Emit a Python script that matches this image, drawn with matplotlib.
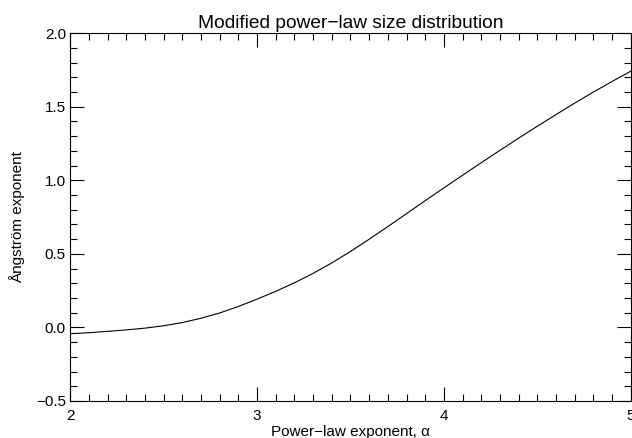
import numpy as np
import matplotlib
matplotlib.use('Agg')
import matplotlib.pyplot as plt
from matplotlib.ticker import MultipleLocator

# values
alpha = [2.0, 2.1, 2.2, 2.3, 2.4, 2.5, 2.6, 2.7, 2.8, 2.9, 3.0,
         3.1, 3.2, 3.3, 3.4, 3.5, 3.6, 3.7, 3.8, 3.9, 4.0,
         4.1, 4.2, 4.3, 4.4, 4.5, 4.6, 4.7, 4.8, 4.9, 5.0]
angstrom = [-0.043, -0.036, -0.027, -0.017, -0.005, 0.011, 0.033, 0.062, 0.098, 0.142, 0.192,
            0.245, 0.303, 0.367, 0.438, 0.516, 0.599, 0.685, 0.773, 0.861, 0.948,
            1.034, 1.119, 1.203, 1.286, 1.367, 1.446, 1.524, 1.599, 1.671, 1.741]

plt.rcParams['font.family'] = ['Liberation Sans', 'DejaVu Sans']

fig = plt.figure(figsize=(6.32, 4.38), dpi=100)
ax = fig.add_axes([0.111, 0.0845, 0.887, 0.840])
ax.plot(alpha, angstrom, color='k', lw=0.8)

ax.set_xlim(2, 5)
ax.set_ylim(-0.5, 2.0)
ax.xaxis.set_major_locator(MultipleLocator(1))
ax.xaxis.set_minor_locator(MultipleLocator(0.1))
ax.yaxis.set_major_locator(MultipleLocator(0.5))
ax.yaxis.set_minor_locator(MultipleLocator(0.1))
ax.xaxis.set_major_formatter(plt.FuncFormatter(lambda v, p: '%d' % v))
ax.yaxis.set_major_formatter(plt.FuncFormatter(lambda v, p: ('%.1f' % v).replace('-', '\u2212')))
ax.tick_params(which='both', direction='in', top=True, right=True, labelsize=11, width=0.8)
ax.tick_params(which='major', length=10)
ax.tick_params(which='minor', length=5)
ax.tick_params(axis='x', which='major', pad=6)
ax.tick_params(axis='y', which='major', pad=3)
for s in ax.spines.values():
    s.set_linewidth(0.8)

ax.set_title('Modified power\u2212law size distribution', fontsize=13.8, pad=4)
ax.set_xlabel('Power\u2212law exponent, \u03b1', fontsize=11, labelpad=1)
ax.set_ylabel('\u00c5ngstr\u00f6m exponent', fontsize=11, labelpad=8)

fig.savefig('out.png', dpi=100)
